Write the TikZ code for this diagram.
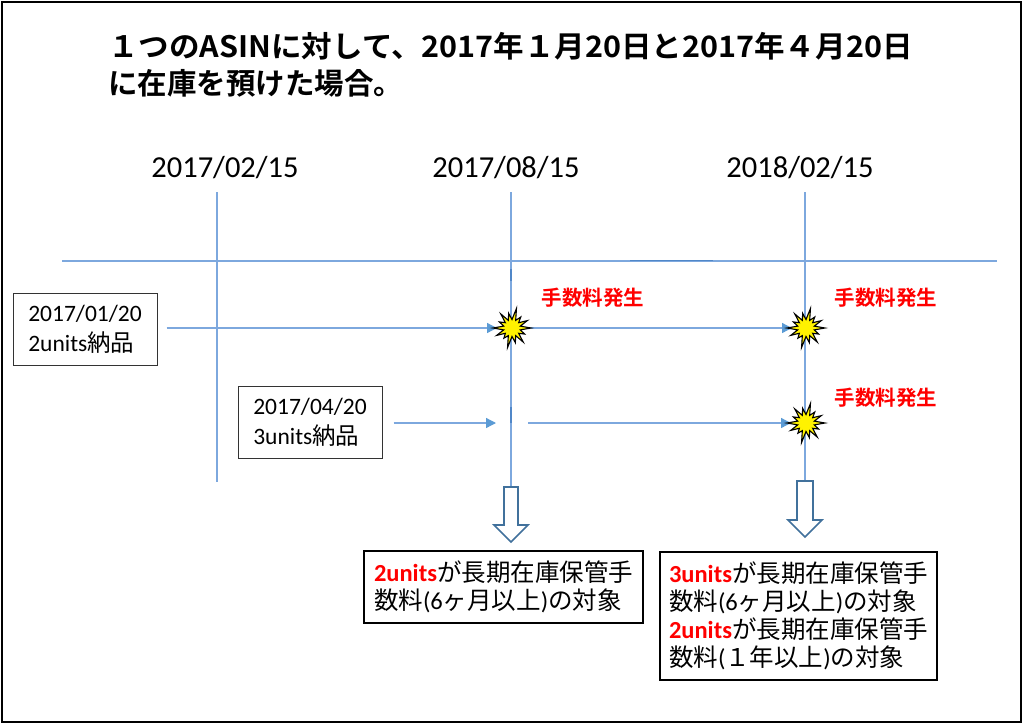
\documentclass[tikz,border=0pt]{standalone}
\usepackage{fontspec}
\usepackage{graphicx}
\setmainfont{Carlito}
\newfontfamily\cjk{Noto Sans CJK JP}
\newfontfamily\cjkb{Noto Sans CJK JP Bold}
\usetikzlibrary{arrows.meta}
\definecolor{tlblue}{RGB}{125,168,222}
\definecolor{tldark}{RGB}{80,135,200}
\definecolor{arblue}{RGB}{91,155,213}
\definecolor{hollowc}{RGB}{65,113,156}
\definecolor{fred}{RGB}{255,0,0}
\begin{document}
\begin{tikzpicture}[x=1pt,y=-1pt,
  tline/.style={draw=tlblue, line width=1.3pt},
  tarrow/.style={tline, -{Triangle[length=10pt,width=10pt,color=arblue]}},
  burst/.style={fill=yellow, draw=black, line width=1.1pt, line join=miter},
  hollow/.style={draw=hollowc, fill=white, line width=1.6pt},
  lbox/.style={draw=black!80, line width=1pt, minimum width=144pt, minimum height=72pt, inner sep=0pt, align=left, font=\fontsize{23.5}{30}\selectfont},
  rbox/.style={draw=black, line width=1.2pt, inner sep=0pt, align=left, font=\fontsize{24.5}{28}\selectfont},
  datelab/.style={inner sep=0pt, font=\fontsize{30.5}{32}\selectfont},
  feelab/.style={inner sep=0pt, text=fred, font=\cjkb\fontsize{20.5}{21}\selectfont},
  titlef/.style={inner sep=0pt, anchor=west, font=\cjkb\fontsize{29.5}{31}\selectfont}
]
\useasboundingbox (0,0) rectangle (1024,725);
\draw[line width=2pt] (2,2) rectangle (1021,722);

% title
\node[titlef] (title1) at (108,46) {\scalebox{1.035}[1]{１つのASINに対して、2017年１月20日と2017年４月20日}};
\node[titlef] (title2) at (108,83) {に在庫を預けた場合。};

% date labels
\node[datelab] (d1) at (225,167.5) {2017/02/15};
\node[datelab] (d2) at (506,167.5) {2017/08/15};
\node[datelab] (d3) at (800,167.5) {2018/02/15};

% timeline coordinates
\coordinate (h1) at (62,261);
\coordinate (h2) at (997,261);
\coordinate (v1t) at (217,192);
\coordinate (v1b) at (217,482);
\coordinate (v2t) at (511,192);
\coordinate (v2b) at (511,487);
\coordinate (v3t) at (805,192);
\coordinate (v3b) at (805,481);
\draw[tline] (h1) -- (h2);
\draw[tline] (v1t) -- (v1b);
\draw[tline] (v2t) -- (v2b);
\draw[tline] (v3t) -- (v3b);
\coordinate (hd1) at (630,260.5);
\coordinate (hd2) at (713,260.5);
\draw[draw=tldark, line width=1.2pt] (hd1) -- (hd2);
\coordinate (tk1) at (511,269);
\coordinate (tk2) at (511,281);
\coordinate (tk3) at (511,407);
\coordinate (tk4) at (511,423);
\draw[draw=tldark, line width=1.4pt] (tk1) -- (tk2);
\draw[draw=tldark, line width=1.4pt] (tk3) -- (tk4);

% left boxes
\node[lbox] (box1) at (85,329) {2017/01/20\\2units{\cjk 納品}};
\node[lbox] (box2) at (310,422.5) {2017/04/20\\3units{\cjk 納品}};

% bursts
\coordinate (b1) at (512,328);
\coordinate (b2) at (806,328);
\coordinate (b3) at (806,423);
\coordinate (r1e) at (497,328);
\coordinate (r1f) at (792,328);
\coordinate (r2a) at (528,423);
\coordinate (r2e) at (496,423);
\coordinate (r2f) at (791,423);
\draw[tarrow] ([xshift=9pt]box1.east |- r1e) -- (r1e);
\draw[tarrow] (b1) -- (r1f);
\draw[tarrow] ([xshift=11pt]box2.east |- r2e) -- (r2e);
\draw[tarrow] (r2a) -- (r2f);

\foreach \c in {b1,b2,b3}{
  \begin{scope}[shift={(\c)}]
    \filldraw[burst] (0:19)
      \foreach \a/\r in {1/14,2/18,3/15,4/20,5/13,6/17,7/19,8/14,9/18,10/15,11/20,12/14,13/17}
        { -- ({(\a-0.5)*25.714}:8.5) -- ({\a*25.714}:\r) } -- (347.14:8.5) -- cycle;
  \end{scope}
}

% fee labels
\node[feelab] (f1) at (593,298) {手数料発生};
\node[feelab] (f2) at (886,298) {手数料発生};
\node[feelab] (f3) at (886,398) {手数料発生};

% hollow arrows
\coordinate (ha1) at (511,487);
\coordinate (ha2) at (805,481);
\filldraw[hollow] ([xshift=-7pt]ha1) -- ([xshift=7pt]ha1) -- ([xshift=7pt,yshift=-38pt]ha1) -- ([xshift=17pt,yshift=-38pt]ha1) -- ([yshift=-55pt]ha1) -- ([xshift=-17pt,yshift=-38pt]ha1) -- ([xshift=-7pt,yshift=-38pt]ha1) -- cycle;
\filldraw[hollow] ([xshift=-8pt]ha2) -- ([xshift=8pt]ha2) -- ([xshift=8pt,yshift=-39pt]ha2) -- ([xshift=17pt,yshift=-39pt]ha2) -- ([yshift=-56pt]ha2) -- ([xshift=-17pt,yshift=-39pt]ha2) -- ([xshift=-8pt,yshift=-39pt]ha2) -- cycle;

% result boxes
\node[rbox, minimum width=279pt, minimum height=72pt] (box3) at (503.5,587)
  {\textcolor{fred}{\textbf{2units}}{\cjk が長期在庫保管手}\\{\cjk 数料}(6{\cjk ヶ月以上}){\cjk の対象}};
\node[rbox, minimum width=277pt, minimum height=128pt] (box4) at (798.5,616)
  {\textcolor{fred}{\textbf{3units}}{\cjk が長期在庫保管手}\\{\cjk 数料}(6{\cjk ヶ月以上}){\cjk の対象}\\\textcolor{fred}{\textbf{2units}}{\cjk が長期在庫保管手}\\{\cjk 数料}({\cjk １年以上}){\cjk の対象}};
\end{tikzpicture}
\end{document}
